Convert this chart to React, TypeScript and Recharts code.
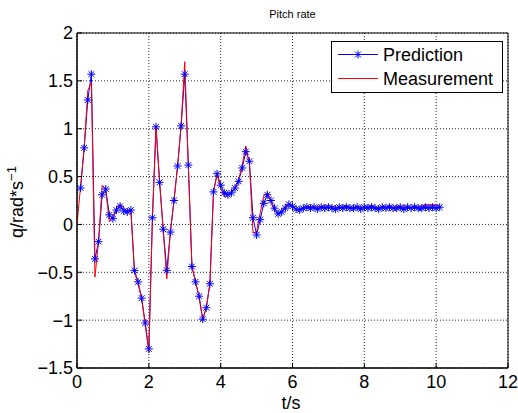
import React from 'react';
import { LineChart, Line, XAxis, YAxis, CartesianGrid, ReferenceArea } from 'recharts';

const times = [
  0.0, 0.1, 0.2, 0.3, 0.4, 0.5, 0.6, 0.7, 0.8, 0.9,
  1.0, 1.1, 1.2, 1.3, 1.4, 1.5, 1.6, 1.7, 1.8, 1.9,
  2.0, 2.1, 2.2, 2.3, 2.4, 2.5, 2.6, 2.7, 2.8, 2.9,
  3.0, 3.1, 3.2, 3.3, 3.4, 3.5, 3.6, 3.7, 3.8, 3.9,
  4.0, 4.1, 4.2, 4.3, 4.4, 4.5, 4.6, 4.7, 4.8, 4.9,
  5.0, 5.1, 5.2, 5.3, 5.4, 5.5, 5.6, 5.7, 5.8, 5.9,
  6.0, 6.1, 6.2, 6.3, 6.4, 6.5, 6.6, 6.7, 6.8, 6.9,
  7.0, 7.1, 7.2, 7.3, 7.4, 7.5, 7.6, 7.7, 7.8, 7.9,
  8.0, 8.1, 8.2, 8.3, 8.4, 8.5, 8.6, 8.7, 8.8, 8.9,
  9.0, 9.1, 9.2, 9.3, 9.4, 9.5, 9.6, 9.7, 9.8, 9.9,
  10.0, 10.1,
];

const prediction: (number | null)[] = [
  null, 0.38, 0.80, 1.30, 1.57, -0.36, -0.18, 0.31, 0.37, 0.10,
  0.06, 0.15, 0.19, 0.14, 0.13, 0.15, -0.48, -0.60, -0.77, -1.03,
  -1.30, 0.07, 1.02, 0.44, -0.05, -0.48, -0.08, 0.25, 0.61, 1.03,
  1.57, 0.62, -0.44, -0.60, -0.75, -0.99, -0.87, -0.62, 0.34, 0.53,
  0.41, 0.33, 0.31, 0.33, 0.38, 0.45, 0.59, 0.76, 0.66, 0.07,
  -0.11, 0.05, 0.22, 0.31, 0.25, 0.17, 0.11, 0.13, 0.17, 0.21,
  0.19, 0.16, 0.15, 0.17, 0.18, 0.17, 0.18, 0.16, 0.18, 0.17,
  0.18, 0.17, 0.16, 0.18, 0.17, 0.18, 0.17, 0.17, 0.18, 0.16,
  0.18, 0.17, 0.18, 0.17, 0.16, 0.18, 0.17, 0.18, 0.17, 0.17,
  0.18, 0.16, 0.18, 0.17, 0.18, 0.17, 0.17, 0.18, 0.17, 0.18,
  0.17, 0.18,
];

const measurement = [
  0.0, 0.40, 0.80, 1.40, 1.48, -0.55, -0.18, 0.41, 0.36, 0.03,
  0.08, 0.17, 0.21, 0.17, 0.14, 0.16, -0.50, -0.62, -0.78, -1.05,
  -1.34, 0.07, 1.02, 0.45, -0.06, -0.57, -0.08, 0.25, 0.60, 1.05,
  1.70, 0.62, -0.44, -0.60, -0.76, -1.00, -0.87, -0.62, 0.34, 0.52,
  0.38, 0.29, 0.30, 0.34, 0.39, 0.47, 0.62, 0.82, 0.64, -0.09,
  -0.08, 0.12, 0.30, 0.33, 0.24, 0.14, 0.11, 0.14, 0.19, 0.21,
  0.19, 0.15, 0.16, 0.18, 0.18, 0.19, 0.17, 0.19, 0.18, 0.20,
  0.17, 0.19, 0.18, 0.17, 0.19, 0.20, 0.18, 0.17, 0.19, 0.18,
  0.17, 0.19, 0.20, 0.18, 0.17, 0.19, 0.18, 0.19, 0.17, 0.19,
  0.18, 0.20, 0.18, 0.17, 0.19, 0.18, 0.19, 0.21, 0.20, 0.21,
  0.20, 0.20,
];

const xTicks = [0, 2, 4, 6, 8, 10, 12];
const yTicks = [-1.5, -1, -0.5, 0, 0.5, 1, 1.5, 2];
const seriesNames = ['Prediction', 'Measurement'];

const data = times.map((t, i) => ({ t, pred: prediction[i], meas: measurement[i] }));

const FONT = '"Liberation Sans", Arial, Helvetica, sans-serif';

const fmtY = (v: number) => (v < 0 ? '\u2212' + String(-v) : String(v));

const Star = ({ cx, cy }: { cx: number; cy: number }) => {
  const s = 4;
  const d = 2.9;
  return (
    <g stroke="#0000ff" strokeWidth={1}>
      <line x1={cx - s} y1={cy} x2={cx + s} y2={cy} />
      <line x1={cx} y1={cy - s} x2={cx} y2={cy + s} />
      <line x1={cx - d} y1={cy - d} x2={cx + d} y2={cy + d} />
      <line x1={cx - d} y1={cy + d} x2={cx + d} y2={cy - d} />
    </g>
  );
};

const StarDot = (props: any) => {
  const { cx, cy, value, index } = props;
  if (value === null || value === undefined || cx == null || cy == null) return <g key={index} />;
  return <g key={index}><Star cx={cx} cy={cy} /></g>;
};

export default function App() {
  return (
    <div style={{ position: 'absolute', left: 0, top: 0, width: 518, height: 413, background: '#fff' }}>
      <LineChart width={518} height={413} data={data} margin={{ top: 33, right: 10, bottom: 0, left: 0 }}>
        <CartesianGrid stroke="#000" strokeDasharray="1 2" strokeWidth={1} strokeOpacity={0.85} />
        <XAxis
          dataKey="t"
          type="number"
          domain={[0, 12]}
          ticks={xTicks}
          height={45}
          axisLine={{ stroke: '#000', strokeWidth: 1 }}
          tickLine={{ stroke: '#000' }}
          tickSize={-5}
          tickMargin={12}
          tick={{ fontSize: 18, fontFamily: FONT, fill: '#000' }}
          interval={0}
          allowDataOverflow
        />
        <YAxis
          type="number"
          domain={[-1.5, 2]}
          ticks={yTicks}
          width={77}
          axisLine={{ stroke: '#000', strokeWidth: 1 }}
          tickLine={{ stroke: '#000' }}
          tickSize={-5}
          tickMargin={9}
          tickFormatter={fmtY}
          tick={{ fontSize: 18, fontFamily: FONT, fill: '#000' }}
          interval={0}
          allowDataOverflow
        />
        <ReferenceArea x1={0} x2={12} y1={-1.5} y2={2} fill="none" stroke="#000" strokeWidth={1} ifOverflow="visible" />
        <Line
          dataKey="pred"
          name={seriesNames[0]}
          type="linear"
          stroke="#0000ff"
          strokeWidth={1}
          dot={<StarDot />}
          activeDot={false}
          connectNulls={false}
          isAnimationActive={false}
        />
        <Line
          dataKey="meas"
          name={seriesNames[1]}
          type="linear"
          stroke="#ff0000"
          strokeWidth={1}
          dot={false}
          activeDot={false}
          isAnimationActive={false}
        />
      </LineChart>
      <svg width={518} height={413} style={{ position: 'absolute', left: 0, top: 0, pointerEvents: 'none' }}>
        <text x={292.5} y={18} textAnchor="middle" fontSize={11} fontFamily={FONT} fill="#000">Pitch rate</text>
        <text x={291} y={409} textAnchor="middle" fontSize={18} fontFamily={FONT} fill="#000">t/s</text>
        <text transform="translate(23,202) rotate(-90)" textAnchor="middle" fontSize={18} fontFamily={FONT} fill="#000">
          q/rad*s<tspan fontSize={13} dy={-7}>{'\u2212'}1</tspan>
        </text>
        <g transform="translate(331,41)">
          <rect x={0.5} y={0.5} width={171} height={51} fill="#fff" stroke="#000" strokeWidth={1} />
          <line x1={7} y1={13.5} x2={47} y2={13.5} stroke="#0000ff" strokeWidth={1} />
          <Star cx={27} cy={13.5} />
          <text x={52} y={20} fontSize={18} fontFamily={FONT} fill="#000">{seriesNames[0]}</text>
          <line x1={7} y1={37.5} x2={47} y2={37.5} stroke="#ff0000" strokeWidth={1} />
          <text x={52} y={44} fontSize={18} fontFamily={FONT} fill="#000">{seriesNames[1]}</text>
        </g>
      </svg>
    </div>
  );
}
